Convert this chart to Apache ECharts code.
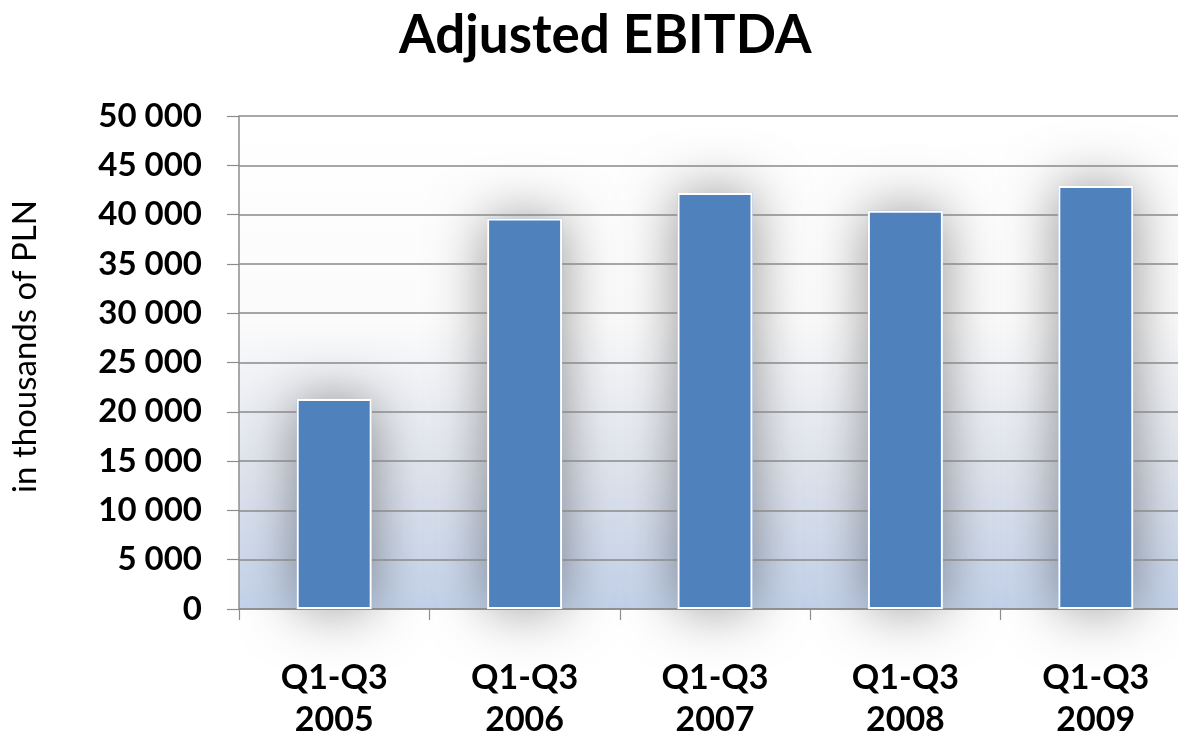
<!DOCTYPE html>
<html>
<head>
<meta charset="utf-8">
<script src="https://cdn.jsdelivr.net/npm/echarts@6/dist/echarts.min.js"></script>
<style>
  html, body { margin: 0; padding: 0; background: #ffffff; overflow: hidden; }
  #chart { width: 1178px; height: 735px; }
</style>
</head>
<body>
<div id="chart"></div>
<script>
// Adjusted EBITDA, nine-month periods, in thousands of PLN
const categories = ['Q1-Q3\n2005', 'Q1-Q3\n2006', 'Q1-Q3\n2007', 'Q1-Q3\n2008', 'Q1-Q3\n2009'];
const ebitda = [21300, 39600, 42200, 40400, 42900];
const titleText = 'Adjusted EBITDA';
const yAxisName = 'in thousands of PLN';

const FONT = 'Lato, "Open Sans", sans-serif';
const barColor = '#4f81bd';

// thousands separated by a space: 50000 -> "50 000"
function spaced(v) {
  return String(v).replace(/\B(?=(\d{3})+(?!\d))/g, ' ');
}

const chart = echarts.init(document.getElementById('chart'));
chart.setOption({
  animation: false,
  title: {
    text: titleText,
    left: 394,
    top: 4,
    textStyle: { fontFamily: FONT, fontWeight: 'bold', fontSize: 53, color: '#000' }
  },
  grid: {
    left: 239, right: -13, top: 116, bottom: 126,
    outerBoundsMode: 'none',
    containLabel: false,
    show: true,
    z: -5,
    borderWidth: 0,
    backgroundColor: {
      type: 'linear', x: 0, y: 0, x2: 0, y2: 1,
      colorStops: [
        { offset: 0, color: '#ffffff' },
        { offset: 0.42, color: '#fbfbfc' },
        { offset: 0.7, color: '#e2e6ee' },
        { offset: 1, color: '#c3d2ea' }
      ]
    }
  },
  xAxis: {
    type: 'category',
    data: categories,
    axisLine: { show: true, lineStyle: { color: '#8c8c8c', width: 1.5 } },
    axisTick: { show: true, inside: false, length: 11, lineStyle: { color: '#8c8c8c', width: 1.2 } },
    axisLabel: {
      margin: 48,
      fontFamily: FONT, fontWeight: 'bold', fontSize: 34, lineHeight: 42, color: '#000'
    }
  },
  yAxis: {
    type: 'value',
    min: 0, max: 50000, interval: 5000,
    name: yAxisName,
    nameLocation: 'middle',
    nameGap: 197,
    nameTextStyle: { fontFamily: FONT, fontSize: 33, color: '#000', padding: [0, 0, 0, 32] },
    axisLine: { show: true, lineStyle: { color: '#8c8c8c', width: 1.5 } },
    axisTick: { show: true, length: 12, lineStyle: { color: '#8c8c8c', width: 1.2 } },
    splitLine: { show: true, lineStyle: { color: '#8a8a8a', width: 1.5 } },
    axisLabel: {
      margin: 37,
      fontFamily: FONT, fontWeight: 'bold', fontSize: 33, color: '#000',
      formatter: spaced
    }
  },
  series: [
    {
      // soft glow behind each column, kept beneath the grid lines
      type: 'bar',
      data: ebitda,
      barWidth: 75,
      z: -1,
      silent: true,
      itemStyle: {
        color: barColor,
        shadowBlur: 55,
        shadowColor: 'rgba(0,0,0,0.42)'
      }
    },
    {
      type: 'bar',
      data: ebitda,
      barWidth: 75,
      barGap: '-100%',
      z: 3,
      itemStyle: {
        color: barColor,
        borderColor: '#ffffff',
        borderWidth: 2
      }
    }
  ]
});
</script>
</body>
</html>
